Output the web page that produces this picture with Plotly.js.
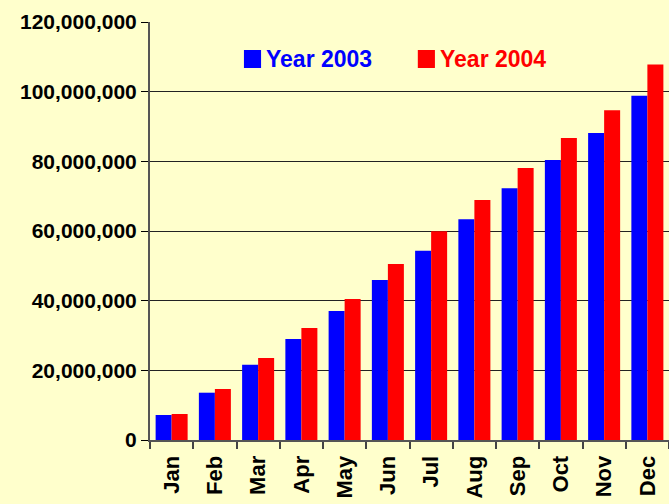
<!DOCTYPE html>
<html>
<head>
<meta charset="utf-8">
<script src="https://cdn.plot.ly/plotly-3.0.1.min.js"></script>
<style>html,body{margin:0;padding:0;background:#FFFFCC;}#chart{width:669px;height:504px;}</style>
</head>
<body>
<div id="chart"></div>
<script>
var months = ["Jan","Feb","Mar","Apr","May","Jun","Jul","Aug","Sep","Oct","Nov","Dec"];
var year2003 = [7180000,13580000,21630000,29000000,37000000,45900000,54300000,63400000,72300000,80400000,88100000,98800000];
var year2004 = [7460000,14640000,23540000,32150000,40500000,50500000,59900000,68900000,78100000,86700000,94700000,107800000];
var seriesNames = ["Year 2003","Year 2004"];
var colors = ["#0000FF","#FF0000"];
var yTicks = [0,20000000,40000000,60000000,80000000,100000000,120000000];

var font = "Liberation Sans, Arial, sans-serif";
var traces = [
  {type:"bar", x:months, y:year2003, name:seriesNames[0], marker:{color:colors[0]}, showlegend:false, hoverinfo:"none"},
  {type:"bar", x:months, y:year2004, name:seriesNames[1], marker:{color:colors[1]}, showlegend:false, hoverinfo:"none"}
];
var layout = {
  width:669, height:504,
  paper_bgcolor:"#FFFFCC", plot_bgcolor:"#FFFFCC",
  margin:{l:150, r:0, t:22, b:64},
  barmode:"group", bargap:0.26, bargroupgap:0,
  font:{family:font, color:"#000"},
  xaxis:{
    type:"category", tickangle:-90, tickson:"boundaries", ticks:"outside", ticklen:7, tickwidth:2, tickcolor:"#444",
    ticklabelstandoff:5,
    showline:true, linecolor:"#555", linewidth:2, showgrid:false,
    tickfont:{family:font, size:22, color:"#000", weight:"bold"}, fixedrange:true
  },
  yaxis:{
    range:[0,120000000], tickvals:yTicks, tickformat:",d", ticks:"outside", ticklen:7, tickwidth:1, tickcolor:"#000",
    showline:true, linecolor:"#555", linewidth:2, showgrid:true, gridcolor:"#222", gridwidth:1, zeroline:false,
    tickfont:{family:font, size:21, color:"#000", weight:"bold"}, fixedrange:true
  },
  shapes:[
    {type:"rect", xref:"paper", yref:"paper", x0:0.181, x1:0.214, y0:0.890, y1:0.933, fillcolor:colors[0], line:{width:0}},
    {type:"rect", xref:"paper", yref:"paper", x0:0.516, x1:0.549, y0:0.890, y1:0.933, fillcolor:colors[1], line:{width:0}}
  ],
  annotations:[
    {xref:"paper", yref:"paper", x:0.220, y:0.9115, xanchor:"left", yanchor:"middle", showarrow:false, text:"<b>"+seriesNames[0]+"</b>", font:{family:font, size:23, color:colors[0]}},
    {xref:"paper", yref:"paper", x:0.555, y:0.9115, xanchor:"left", yanchor:"middle", showarrow:false, text:"<b>"+seriesNames[1]+"</b>", font:{family:font, size:23, color:colors[1]}}
  ]
};
Plotly.newPlot("chart", traces, layout, {staticPlot:true, displayModeBar:false});
</script>
</body>
</html>
